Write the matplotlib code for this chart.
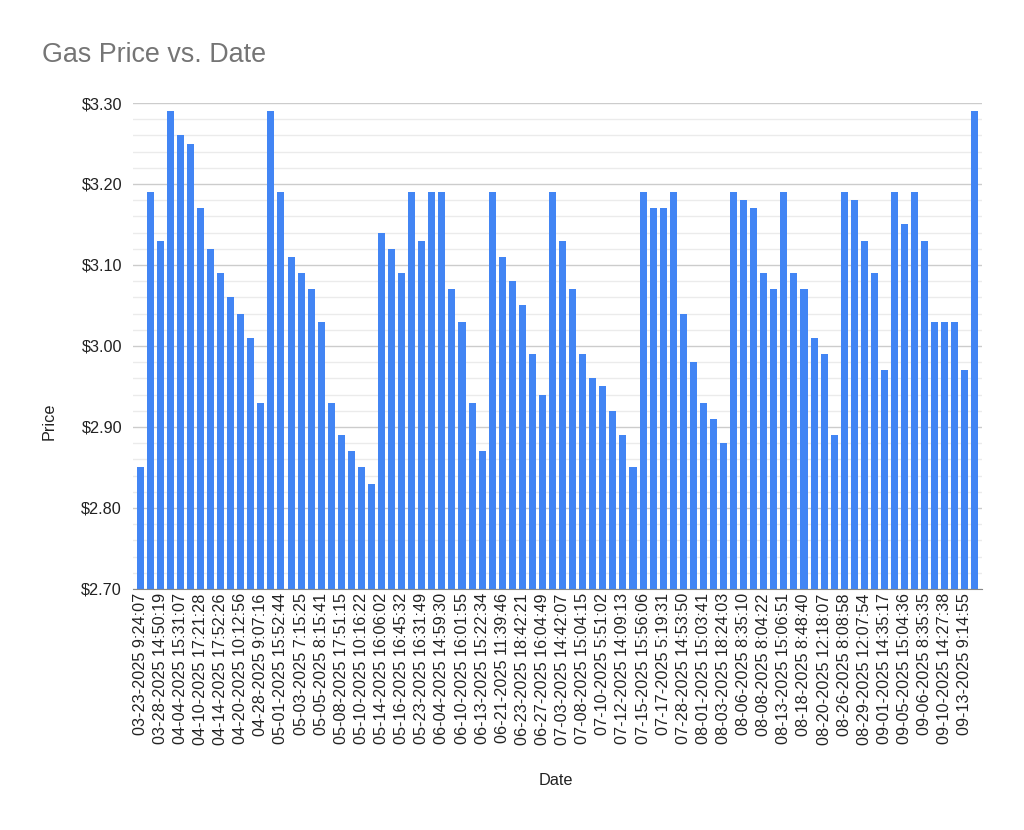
import numpy as np
import matplotlib.pyplot as plt
from matplotlib.ticker import MultipleLocator, FuncFormatter

plt.rcParams['font.family'] = ['Liberation Sans', 'DejaVu Sans']

# prices, one bar per reading (84 readings)
prices = [2.85, 3.19, 3.13, 3.29, 3.26, 3.25, 3.17, 3.12, 3.09, 3.06,
          3.04, 3.01, 2.93, 3.29, 3.19, 3.11, 3.09, 3.07, 3.03, 2.93,
          2.89, 2.87, 2.85, 2.83, 3.14, 3.12, 3.09, 3.19, 3.13, 3.19,
          3.19, 3.07, 3.03, 2.93, 2.87, 3.19, 3.11, 3.08, 3.05, 2.99,
          2.94, 3.19, 3.13, 3.07, 2.99, 2.96, 2.95, 2.92, 2.89, 2.85,
          3.19, 3.17, 3.17, 3.19, 3.04, 2.98, 2.93, 2.91, 2.88, 3.19,
          3.18, 3.17, 3.09, 3.07, 3.19, 3.09, 3.07, 3.01, 2.99, 2.89,
          3.19, 3.18, 3.13, 3.09, 2.97, 3.19, 3.15, 3.19, 3.13, 3.03,
          3.03, 3.03, 2.97, 3.29]

# only every other timestamp is printed on the axis
shown_dates = ['03-23-2025 9:24:07', '03-28-2025 14:50:19', '04-04-2025 15:31:07',
               '04-10-2025 17:21:28', '04-14-2025 17:52:26', '04-20-2025 10:12:56',
               '04-28-2025 9:07:16', '05-01-2025 15:52:44', '05-03-2025 7:15:25',
               '05-05-2025 8:15:41', '05-08-2025 17:51:15', '05-10-2025 10:16:22',
               '05-14-2025 16:06:02', '05-16-2025 16:45:32', '05-23-2025 16:31:49',
               '06-04-2025 14:59:30', '06-10-2025 16:01:55', '06-13-2025 15:22:34',
               '06-21-2025 11:39:46', '06-23-2025 18:42:21', '06-27-2025 16:04:49',
               '07-03-2025 14:42:07', '07-08-2025 15:04:15', '07-10-2025 5:51:02',
               '07-12-2025 14:09:13', '07-15-2025 15:56:06', '07-17-2025 5:19:31',
               '07-28-2025 14:53:50', '08-01-2025 15:03:41', '08-03-2025 18:24:03',
               '08-06-2025 8:35:10', '08-08-2025 8:04:22', '08-13-2025 15:06:51',
               '08-18-2025 8:48:40', '08-20-2025 12:18:07', '08-26-2025 8:08:58',
               '08-29-2025 12:07:54', '09-01-2025 14:35:17', '09-05-2025 15:04:36',
               '09-06-2025 8:35:35', '09-10-2025 14:27:38', '09-13-2025 9:14:55']

x = np.arange(len(prices))
fs = 11.7  # label size

fig = plt.figure(figsize=(10.24, 8.3), dpi=100)
ax = fig.add_axes([0.130, 0.2904, 0.829, 0.5855])

ax.bar(x, np.array(prices) - 2.70, bottom=2.70, width=0.7, color='#4285F4', zorder=3)

ax.set_ylim(2.70, 3.30)
ax.set_xlim(-0.7, len(prices) - 0.3)
ax.yaxis.set_major_locator(MultipleLocator(0.10))
ax.yaxis.set_minor_locator(MultipleLocator(0.02))
ax.yaxis.set_major_formatter(FuncFormatter(lambda v, p: '${:.2f}'.format(v)))
ax.grid(which='major', axis='y', color='#cccccc', lw=1, zorder=0)
ax.grid(which='minor', axis='y', color='#ebebeb', lw=1, zorder=0)

ax.set_xticks(x[::2])
ax.set_xticklabels(shown_dates, rotation=90, fontsize=fs, color='#222222')
ax.tick_params(axis='x', length=0, pad=3)
ax.tick_params(axis='y', which='both', length=0, pad=8, labelsize=fs, labelcolor='#222222')

for s in ['top', 'right', 'left']:
    ax.spines[s].set_visible(False)
ax.spines['bottom'].set_color('#888888')
ax.spines['bottom'].set_zorder(4)

ax.set_ylabel('Price', fontsize=fs, color='#222222')
ax.yaxis.set_label_coords(-0.09, 0.346)
ax.set_xlabel('Date', fontsize=fs, color='#222222')
ax.xaxis.set_label_coords(0.498, -0.378)

fig.text(42 / 1024, 1 - 55 / 830, 'Gas Price vs. Date', fontsize=19.4, color='#757575',
         ha='left', va='center')

fig.savefig('out.png', dpi=100, facecolor='white')
